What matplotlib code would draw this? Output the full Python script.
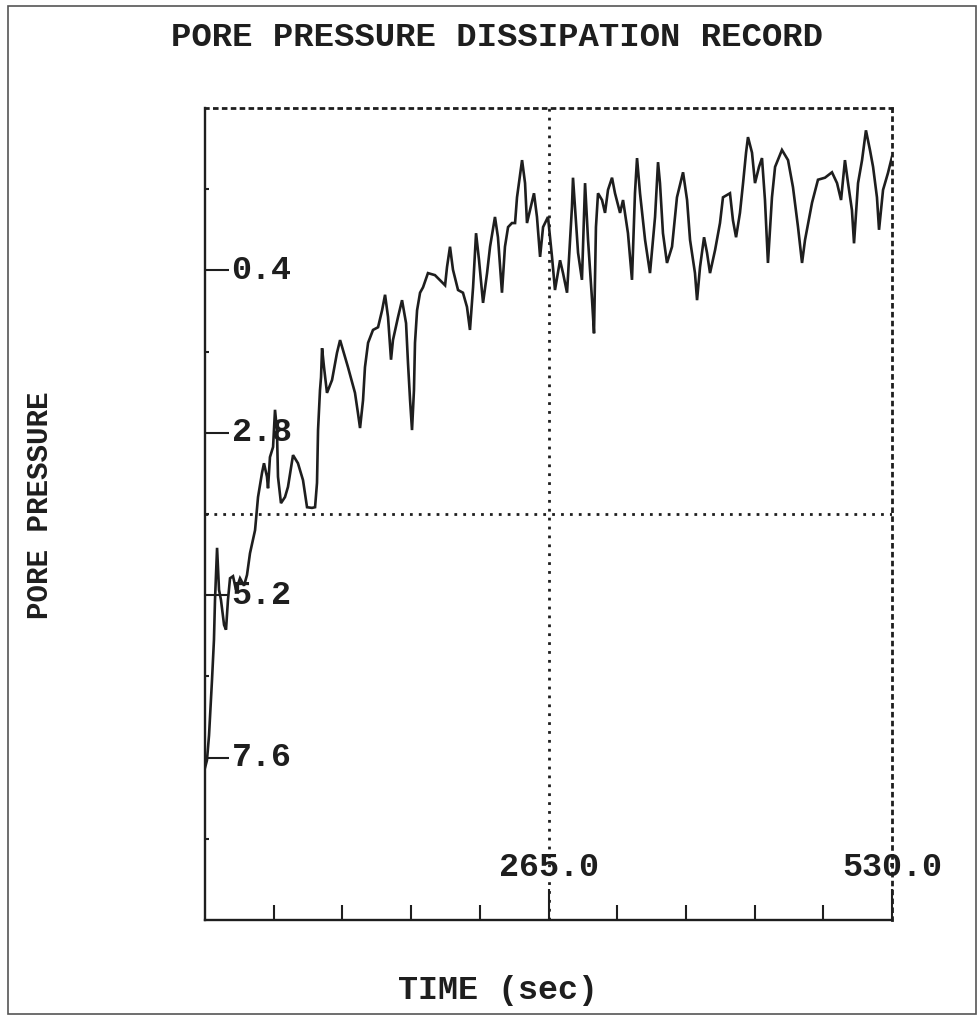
import numpy as np
import matplotlib
matplotlib.use('Agg')
import matplotlib.pyplot as plt
from matplotlib import rc
from matplotlib.patches import Rectangle
from matplotlib.ticker import FixedLocator

rc("font", family=['Liberation Mono', 'DejaVu Sans Mono'], weight='bold')

#%% data
time_sec = [0, 1.5, 3.1, 4.6, 5.4, 6.9, 7.7, 9.3, 10.8, 12.3,
            14.7, 16.2, 17.7, 19.3, 21.6, 23.9, 27.0, 30.1, 32.4, 34.7,
            38.6, 40.9, 44.0, 45.5, 47.8, 48.6, 50.1, 52.5, 54.0, 55.5,
            56.3, 58.6, 61.7, 64.0, 67.9, 71.7, 75.6, 78.7, 82.5, 84.9,
            86.4, 87.2, 88.7, 89.5, 90.3, 91.8, 94.1, 98.0, 101.8, 104.2,
            106.5, 110.3, 115.7, 118.0, 119.6, 121.9, 123.4, 125.8, 129.6, 133.5,
            136.6, 138.9, 141.2, 143.5, 145.0, 148.9, 152.0, 155.1, 156.6, 158.2,
            159.7, 161.2, 162.0, 163.6, 165.9, 168.2, 172.0, 177.4, 185.2, 186.7,
            189.0, 191.3, 195.2, 199.0, 202.1, 204.4, 206.8, 209.1, 211.4, 214.5,
            217.6, 219.9, 223.7, 226.0, 229.1, 231.4, 233.8, 236.8, 239.2, 240.7,
            244.6, 246.9, 248.4, 250.7, 253.8, 256.1, 258.5, 260.8, 264.6, 267.7,
            270.0, 273.9, 276.2, 279.3, 283.1, 283.9, 287.8, 290.8, 293.2, 295.5,
            298.6, 300.1, 301.6, 303.2, 306.3, 308.6, 310.9, 314.0, 316.3, 320.2,
            322.5, 326.3, 329.4, 331.7, 333.3, 335.6, 339.5, 343.3, 347.2, 349.5,
            351.0, 353.3, 356.4, 360.3, 364.1, 368.8, 371.9, 374.2, 378.0, 379.6,
            381.9, 385.0, 387.3, 389.6, 393.5, 397.3, 399.6, 405.0, 407.3, 409.7,
            412.7, 415.1, 417.4, 418.9, 422.0, 424.3, 427.4, 429.7, 432.0, 434.3,
            437.4, 439.8, 445.1, 449.8, 453.6, 457.5, 460.6, 462.9, 468.3, 472.9,
            478.3, 483.7, 487.6, 490.7, 493.7, 496.1, 499.1, 500.7, 503.8, 506.9,
            509.9, 513.0, 515.4, 518.4, 520.0, 523.1, 526.9, 530.0]

pore_pressure = [7.75, 7.64, 7.27, 6.75, 6.45, 5.86, 5.27, 4.50, 5.12, 5.27,
                 5.64, 5.71, 5.27, 4.95, 4.92, 5.12, 4.95, 5.06, 4.90, 4.58,
                 4.24, 3.75, 3.39, 3.25, 3.45, 3.62, 3.16, 3.01, 2.46, 2.76,
                 3.45, 3.84, 3.75, 3.60, 3.13, 3.25, 3.50, 3.90, 3.91, 3.90,
                 3.54, 2.76, 2.17, 1.98, 1.55, 1.83, 2.21, 2.02, 1.62, 1.43,
                 1.58, 1.83, 2.21, 2.51, 2.73, 2.32, 1.83, 1.47, 1.28, 1.24,
                 0.99, 0.76, 1.09, 1.72, 1.43, 1.09, 0.84, 1.18, 1.77, 2.32,
                 2.76, 2.17, 1.47, 0.99, 0.73, 0.65, 0.44, 0.47, 0.62, 0.35,
                 0.05, 0.39, 0.69, 0.73, 0.94, 1.28, 0.65, -0.15, 0.25, 0.88,
                 0.44, 0.05, -0.39, -0.09, 0.73, 0.05, -0.24, -0.30, -0.30, -0.68,
                 -1.23, -0.89, -0.30, -0.49, -0.74, -0.39, 0.20, -0.24, -0.39, 0.20,
                 0.69, 0.25, 0.44, 0.73, -0.54, -0.97, 0.14, 0.54, -0.89, -0.05,
                 0.84, 1.33, -0.24, -0.74, -0.64, -0.45, -0.79, -0.97, -0.74, -0.45,
                 -0.64, -0.15, 0.54, -0.74, -1.26, -0.74, -0.05, 0.44, -0.39, -1.20,
                 -0.89, -0.15, 0.29, 0.05, -0.68, -1.05, -0.64, -0.05, 0.44, 0.84,
                 0.35, -0.09, 0.14, 0.44, 0.10, -0.30, -0.68, -0.74, -0.34, -0.09,
                 -0.45, -0.89, -1.34, -1.57, -1.34, -0.89, -1.13, -1.26, -0.64, 0.29,
                 -0.68, -1.13, -1.38, -1.23, -0.83, -0.24, 0.29, -0.05, -0.60, -0.94,
                 -0.97, -1.05, -0.89, -0.64, -1.23, -0.89, -0.49, 0.00, -0.89, -1.23,
                 -1.67, -1.38, -1.13, -0.68, -0.20, -0.79, -1.04, -1.28]

x_major = [265.0, 530.0]
x_minor = [53, 106, 159, 212, 318, 371, 424, 477]
y_major = [0.4, 2.8, 5.2, 7.6]
y_minor = [-0.8, 1.6, 4.0, 6.4, 8.8]

ink = '#1e1e1e'
dots = (0, (1.0, 2.2))

#%% figure
fig = plt.figure(figsize=(9.8, 10.19), dpi=100)
ax = fig.add_axes([0.2092, 0.0972, 0.7010, 0.7968])

ax.plot(time_sec, pore_pressure, color=ink, lw=1.9, solid_joinstyle='miter')

ax.set_xlim(0, 530)
ax.set_ylim(10, -2)  # pressure increases downward

# solid left/bottom, dotted top/right, dotted cross at the midpoints
for side in ['left', 'bottom']:
    ax.spines[side].set_color(ink)
    ax.spines[side].set_linewidth(1.7)
for side in ['top', 'right']:
    ax.spines[side].set_color(ink)
    ax.spines[side].set_linewidth(2.0)
    ax.spines[side].set_linestyle(dots)
ax.axvline(265, color=ink, lw=2.0, ls=dots, zorder=0)
ax.axhline(4.0, color=ink, lw=2.0, ls=dots, zorder=0)

ax.xaxis.set_major_locator(FixedLocator(x_major))
ax.xaxis.set_minor_locator(FixedLocator(x_minor))
ax.yaxis.set_major_locator(FixedLocator(y_major))
ax.yaxis.set_minor_locator(FixedLocator(y_minor))
ax.tick_params(axis='x', which='major', direction='in', length=22, width=1.5, color=ink,
               labelbottom=False)
ax.tick_params(axis='x', which='minor', direction='in', length=11, width=1.5, color=ink)
ax.tick_params(axis='y', which='major', direction='in', length=17, width=1.5, color=ink,
               labelleft=False)
ax.tick_params(axis='y', which='minor', direction='in', length=3, width=1.5, color=ink)

# tick labels sit inside the frame
for xv in x_major:
    ax.text(xv, 9.23, '%.1f' % xv, ha='center', va='center', fontsize=24, color=ink)
for yv in y_major:
    ax.text(20.5, yv, '%.1f' % yv, ha='left', va='center', fontsize=24, color=ink)

fig.text(497 / 980, 1 - 38 / 1019, 'PORE PRESSURE DISSIPATION RECORD',
         ha='center', va='center', fontsize=24.5, color=ink)
fig.text(40 / 980, 1 - 505 / 1019, 'PORE PRESSURE', rotation=90,
         ha='center', va='center', fontsize=21, color=ink)
fig.text(498 / 980, 1 - 991 / 1019, 'TIME (sec)',
         ha='center', va='center', fontsize=24, color=ink)

# outer frame of the printout
fig.add_artist(Rectangle((8 / 980, 1 - 1014 / 1019), 968 / 980, 1008 / 1019,
                         transform=fig.transFigure, fill=False, ec='#555555', lw=1.2))

fig.savefig('out.png', dpi=100)
plt.close('all')
